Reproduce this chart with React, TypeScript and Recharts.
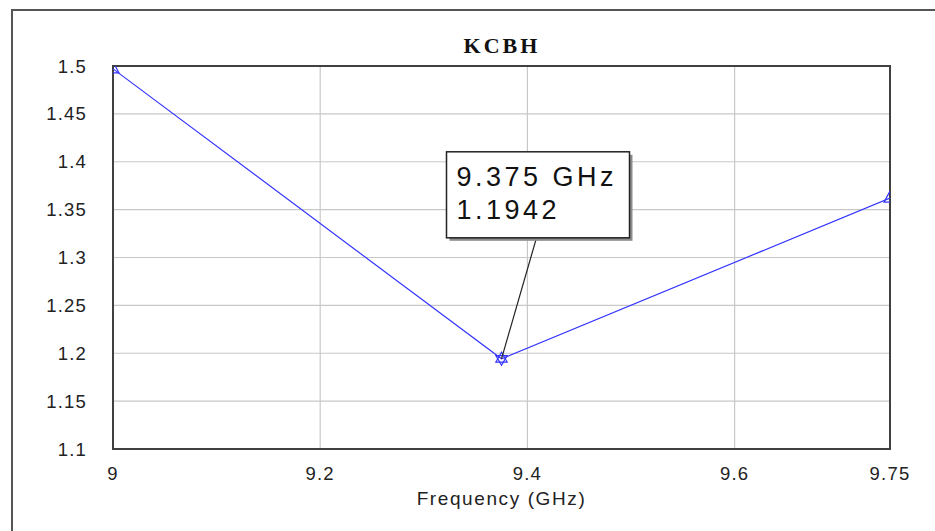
import { LineChart, Line, XAxis, YAxis, CartesianGrid, ReferenceArea, ReferenceDot } from "recharts";

const freqs = [9, 9.375, 9.75];
const vswr = [1.497, 1.1942, 1.362];
const xTicks = [9, 9.2, 9.4, 9.6, 9.75];
const yTicks = [1.1, 1.15, 1.2, 1.25, 1.3, 1.35, 1.4, 1.45, 1.5];
const title = "KCBH";
const markerFreq = 9.375;
const markerValue = 1.1942;

const data = freqs.map((f, i) => ({ f, v: vswr[i] }));

const blue = "#3434ff";
const font = "'Liberation Sans', Arial, sans-serif";

const fmt = (v: number) => String(+v.toFixed(2));

function renderDot(props: any) {
  const { cx, cy, index } = props;
  if (cx == null || cy == null) return <g key={index} />;
  if (index === 1) {
    // star marker at the minimum
    const r = 6.5;
    const up = `${cx},${cy - r} ${cx - r * 0.87},${cy + r / 2} ${cx + r * 0.87},${cy + r / 2}`;
    const down = `${cx},${cy + r} ${cx - r * 0.87},${cy - r / 2} ${cx + r * 0.87},${cy - r / 2}`;
    return (
      <g key={index}>
        <polygon points={up} fill="none" stroke={blue} strokeWidth={1.2} />
        <polygon points={down} fill="none" stroke={blue} strokeWidth={1.2} />
      </g>
    );
  }
  const pts = `${cx},${cy - 7} ${cx - 6},${cy + 4} ${cx + 6},${cy + 4}`;
  return <polygon key={index} points={pts} fill="none" stroke={blue} strokeWidth={1.2} />;
}

function MarkerNote(props: any) {
  const { cx, cy } = props;
  if (cx == null || cy == null) return <g />;
  const bx = cx - 55;
  const by = cy - 207;
  const w = 183;
  const h = 86;
  return (
    <g>
      <line x1={cx + 35} y1={by + h} x2={cx} y2={cy} stroke="#222" strokeWidth={1.2} />
      <rect x={bx + 3} y={by + 3} width={w} height={h} fill="#8c8c8c" />
      <rect x={bx} y={by} width={w} height={h} fill="#fff" stroke="#222" strokeWidth={1.5} />
      <text x={bx + 10} y={by + 34} fontFamily={font} fontSize={27} letterSpacing={3.5} fill="#111">
        {`${markerFreq} GHz`}
      </text>
      <text x={bx + 10} y={by + 67} fontFamily={font} fontSize={27} letterSpacing={3.5} fill="#111">
        {`${markerValue}`}
      </text>
    </g>
  );
}

export default function App() {
  return (
    <div
      style={{
        position: "fixed",
        left: 0,
        top: 0,
        width: 935,
        height: 531,
        overflow: "hidden",
        background: "#fff",
      }}
    >
      <LineChart width={935} height={531} data={data} margin={{ top: 66, right: 45, bottom: 22, left: 0 }}>
        <CartesianGrid stroke="#c8c8c8" strokeWidth={1.2} />
        <XAxis
          type="number"
          dataKey="f"
          domain={[9, 9.75]}
          ticks={xTicks}
          interval={0}
          allowDataOverflow
          height={60}
          tickSize={0}
          tickMargin={18}
          axisLine={false}
          tickLine={false}
          tick={{ fill: "#222", fontSize: 18.5, fontFamily: font, letterSpacing: 1.2 }}
          label={{
            value: "Frequency (GHz)",
            position: "insideBottom",
            offset: 4,
            fill: "#222",
            fontSize: 19,
            fontFamily: font,
            letterSpacing: 1.6,
          }}
        />
        <YAxis
          type="number"
          domain={[1.1, 1.5]}
          ticks={yTicks}
          interval={0}
          allowDataOverflow
          width={113}
          tickSize={0}
          tickMargin={26}
          axisLine={false}
          tickLine={false}
          tickFormatter={fmt}
          tick={{ fill: "#222", fontSize: 18.5, fontFamily: font, letterSpacing: 1.2 }}
        />
        <ReferenceArea x1={9} x2={9.75} y1={1.1} y2={1.5} fill="none" stroke="#404040" strokeWidth={2} />
        <Line
          type="linear"
          dataKey="v"
          stroke={blue}
          strokeWidth={1.2}
          dot={renderDot}
          activeDot={false}
          isAnimationActive={false}
        />
        <ReferenceDot x={markerFreq} y={markerValue} shape={MarkerNote} />
      </LineChart>
      <svg width={935} height={531} style={{ position: "absolute", left: 0, top: 0, pointerEvents: "none" }}>
        <rect x={12} y={10} width={1000} height={600} fill="none" stroke="#555" strokeWidth={2} />
        <text
          x={502}
          y={53}
          textAnchor="middle"
          fontFamily="'Liberation Serif', 'Times New Roman', serif"
          fontWeight="bold"
          fontSize={22}
          letterSpacing={3}
          fill="#111"
        >
          {title}
        </text>
      </svg>
    </div>
  );
}
